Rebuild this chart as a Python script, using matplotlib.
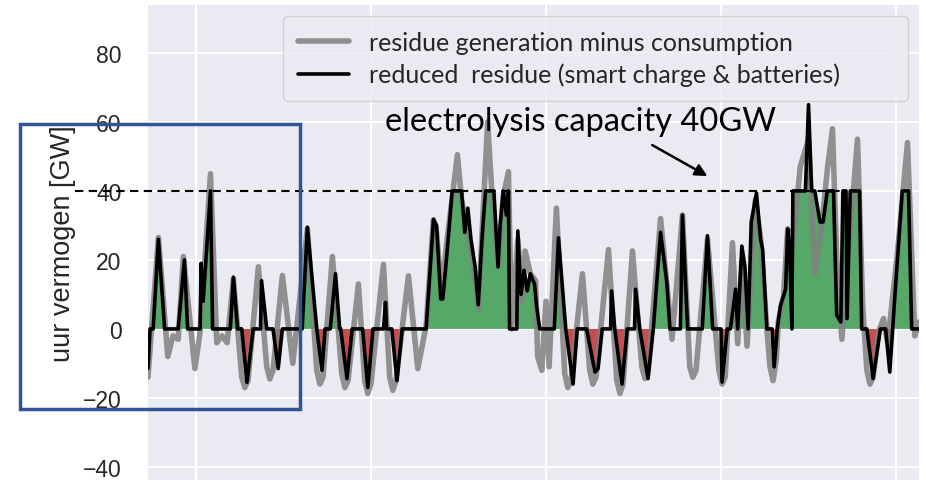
import matplotlib
matplotlib.use("Agg")
import matplotlib.pyplot as plt
import numpy as np
from matplotlib.patches import Rectangle

# residue generation minus consumption (hours, GW)
residue_hours = [0, 10, 19, 24, 29, 34, 45, 50, 60, 66,
                 71, 76, 82, 90, 93, 96, 106, 114, 117, 120,
                 129, 139, 153, 162, 165, 168, 177, 186, 189, 192,
                 202, 208, 211, 214, 226, 232, 235, 238, 250, 259,
                 267, 274, 277, 282, 286, 292, 297, 301, 307, 312,
                 317, 321, 326, 330, 336, 341, 346, 349, 355, 359,
                 362, 367, 372, 374, 378, 382, 385, 392, 400, 403,
                 406, 417, 424, 427, 430, 442, 450, 453, 456, 465,
                 474, 477, 480, 492, 503, 513, 520, 523, 526, 537,
                 548, 551, 554, 561, 566, 570, 575, 583, 588, 594,
                 597, 600, 603, 605, 610, 614, 619, 626, 634, 640,
                 647, 652, 657, 661, 666, 672, 681, 686, 690, 693,
                 696, 701, 706, 710, 719, 729, 736, 740]
residue_gw = [-14, 26.5, -8, -2, -3, 21, -11.5, -1, 45, -4,
              -2, -4, 14.5, -14, -17, -15, 18, -11, -14.5, -12,
              15.5, -10, 29, -12, -16, -14, 21, -13, -17, -15,
              13, -15, -18.7, -16, 18.7, -14, -17.8, -15, 15.4, -11.5,
              1, 31.7, 28, 9.6, 23, 38, 50.5, 37.5, 28, 19,
              5.8, 30, 60, 40, 18, 38.5, 45.6, 0, 26, 8,
              22.6, 16, 14, -8, -12, 8, -11, 35, -13, -17,
              -15, 16, -12, -16, -14, 23, -15, -18.7, -16, 22.6,
              -11, -14.4, -12, 32, -3, 33, -11, -14, -12, 26,
              -12, -16, -14, 25, -4.3, 20, -5, 37.5, 26, 0,
              -11, -15, -9, 2, 9.6, 29, 24, 47, 55, 16,
              31, 46, 58, 21, -3, 21, 55, 6.7, -12, -16,
              -14, -1, 3, -4, 21, 54, -2, 2]

# reduced residue (smart charge & batteries)
reduced_hours = [0, 2, 5, 10, 16, 29, 35, 38, 50, 51, 53, 60, 62, 79, 82, 86, 90, 95, 101,
                 108, 109, 114, 120, 125, 129, 148, 153, 162, 167, 170, 175, 180, 184, 185,
                 191, 196, 206, 211, 216, 226, 228, 229, 234, 239, 244, 267, 274, 277, 281,
                 283, 287, 292, 301, 304, 307, 310, 314, 317, 321, 324, 332, 336, 338, 341,
                 344, 346, 347, 354, 355, 358, 361, 364, 367, 371, 373, 376, 390, 394, 401,
                 408, 412, 421, 429, 432, 436, 444, 445, 448, 455, 460, 467, 468, 472, 480,
                 485, 492, 498, 501, 511, 513, 518, 532, 537, 542, 550, 551, 556, 559, 564,
                 566, 570, 573, 576, 579, 584, 588, 590, 594, 599, 601, 604, 607, 612, 614,
                 616, 618, 619, 631, 634, 637, 640, 645, 648, 652, 658, 661, 665, 667, 670,
                 671, 674, 683, 685, 690, 696, 703, 708, 712, 717, 720, 724, 730, 733, 740]
reduced_gw = [-11.5, 0, 0, 26, 0, 0, 20, 0, 0, 19, 8, 40, 0, 0, 15, 0, 0, -15.5, 0,
              0, 14, 0, 0, -11.5, 0, 0, 29.5, 0, -12, 0, 0, 16, 0, 0,
              -14.4, 0, 0, -17, 0, 0, 7.7, 0, 0, -15, 0, 0, 31.7, 30, 8.7,
              8.7, 22, 40, 40, 28, 35, 26, 18, 7, 28, 40, 40, 18, 30, 40,
              33, 40, 0, 0, 28.4, 10, 17, 11, 16, 13, 6.7, 0, 0, 26.4, 0,
              -16, 0, 0, -12.5, -11.5, 0, 0, 11, 0, -16, 0, 0, 11.5, 0, -14.4,
              0, 28, 13.5, 0, 0, 33, 0, 0, 27, 0, 0, -15.4, 0, 0, 11.5,
              0, 24, 18, 0, 31, 39.4, 26, 23, 0, 0, -11, 0, 6.7, 11.5, 29,
              23, 0, 40, 40, 65, 40, 40, 31, 31, 40, 40, 4, 2, 40, 40,
              3, 40, 40, 0, 0, -14.4, 0, 0, -12.5, 10, 23, 40, 40, 0, 0]

capacity = 40
week_ticks = [46, 214, 382, 550, 718]
y_ticks = [-40, -20, 0, 20, 40, 60, 80]

plt.style.use("seaborn-v0_8-darkgrid")

fig = plt.figure(figsize=(9.26, 4.81), dpi=100)
ax = fig.add_axes([0.1598, 0.0, 0.8326, 0.9875])

t = np.array(reduced_hours, dtype=float)
r = np.array(reduced_gw, dtype=float)
ax.fill_between(t, 0, r, where=r > 0, interpolate=True, color="#55a868", lw=0)
ax.fill_between(t, 0, r, where=r < 0, interpolate=True, color="#c44e52", lw=0)

ax.plot(residue_hours, residue_gw, color="#808080", lw=4, alpha=0.85,
        solid_joinstyle="round", label="residue generation minus consumption")
ax.plot(reduced_hours, reduced_gw, color="black", lw=2.6,
        label="reduced  residue (smart charge & batteries)")

# capacity line (runs over the tick labels like in the slide)
ax.plot([-70, 668], [capacity, capacity], color="black", ls=(0, (4, 2.6)), lw=1.5,
        clip_on=False)

ax.set_xlim(0, 740)
ax.set_ylim(-43.8, 93.9)
ax.set_xticks(week_ticks)
ax.set_xticklabels([])
ax.set_yticks(y_ticks)
ax.tick_params(axis="y", labelsize=16.5, pad=19, labelcolor="#262626")
for lab in ax.get_yticklabels():
    lab.set_family("Liberation Sans")
ax.grid(True, color="white", lw=1.5)
ax.set_ylabel("uur vermogen [GW]", fontsize=19.5, family="Liberation Sans",
              color="#262626", labelpad=5)

ax.legend(loc="upper left", bbox_to_anchor=(0.175, 0.806, 0.8106, 0.171), mode="expand",
          borderaxespad=0, prop={"family": "Lato", "size": 18}, handlelength=2.05,
          handletextpad=0.8, labelspacing=0.35, borderpad=0.6, framealpha=0.8,
          frameon=True)

ax.text(415, 60.3, "electrolysis capacity 40GW", fontsize=23.5, family="Lato",
        ha="center", va="center", color="black")
ax.annotate("", xy=(537, 44.3), xytext=(484, 53.3),
            arrowprops=dict(arrowstyle="-|>", color="black", lw=1.8, mutation_scale=18,
                            shrinkA=0, shrinkB=0))

fig.patches.append(Rectangle((0.0216, 0.1476), 0.3024, 0.5925, transform=fig.transFigure,
                             fill=False, edgecolor="#2f5597", lw=2.5, zorder=10))

fig.savefig("out.png", dpi=100)
